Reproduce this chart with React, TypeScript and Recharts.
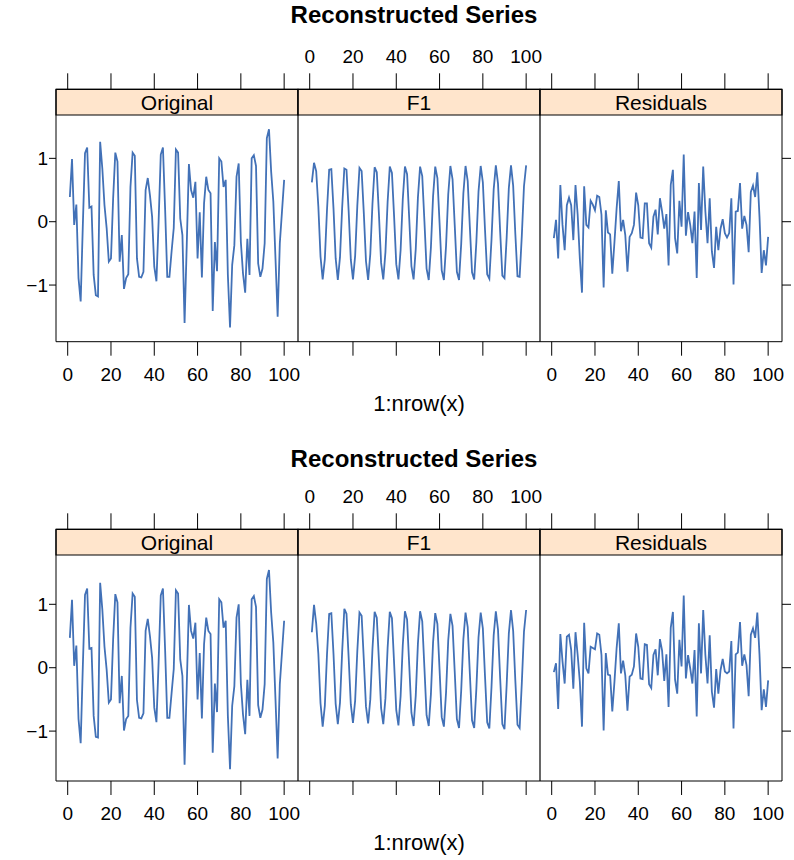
import React from "react";
import { LineChart, Line, XAxis, YAxis, ReferenceArea, ReferenceLine } from "recharts";

const panels = ["Original", "F1", "Residuals"];
const xTicks = [0, 20, 40, 60, 80, 100];
const yTicks = [-1, 0, 1];

// first decomposition
const originalA = [
  0.39, 0.99, -0.05, 0.27, -0.89, -1.26, -0.05, 1.08, 1.17, 0.22,
  0.24, -0.84, -1.16, -1.18, 1.26, 0.84, 0.26, -0.1, -0.63, -0.58,
  0.37, 1.09, 0.95, -0.63, -0.21, -1.06, -0.89, -0.83, 0.55, 1.09,
  1.04, -0.58, -0.87, -0.88, -0.79, 0.5, 0.69, 0.42, 0.08, -0.71,
  -0.94, 0.0, 1.06, 1.17, 0.21, -0.87, -0.87, -0.47, -0.1, 1.14,
  1.09, 0.05, -0.21, -1.6, -0.37, 0.91, 0.5, 0.38, 0.63, -0.58,
  0.15, -0.88, 0.29, 0.71, 0.5, 0.45, -1.41, -0.32, -0.78, 1.0,
  0.95, 0.55, 0.66, -0.84, -1.67, -0.68, -0.37, 0.71, 0.92, -0.32,
  -0.82, -1.12, -0.27, -0.84, 1.0, 1.05, 0.88, -0.66, -0.87, -0.74,
  -0.34, 1.32, 1.46, 0.79, 0.32, -0.58, -1.5, -0.34, 0.16, 0.66,
];
const f1A = [
  0.62, 0.93, 0.8, 0.24, -0.55, -0.91, -0.59, 0.19, 0.82, 0.83,
  0.21, -0.58, -0.92, -0.56, 0.22, 0.84, 0.82, 0.17, -0.6, -0.91,
  -0.54, 0.25, 0.85, 0.8, 0.14, -0.62, -0.92, -0.51, 0.28, 0.86,
  0.78, 0.11, -0.65, -0.91, -0.48, 0.31, 0.87, 0.77, 0.08, -0.67,
  -0.91, -0.45, 0.35, 0.87, 0.75, 0.04, -0.7, -0.91, -0.43, 0.38,
  0.87, 0.72, 0.01, -0.74, -0.92, -0.41, 0.4, 0.87, 0.69, -0.02,
  -0.77, -0.92, -0.38, 0.43, 0.88, 0.67, -0.05, -0.79, -0.92, -0.35,
  0.45, 0.88, 0.64, -0.09, -0.8, -0.91, -0.32, 0.48, 0.88, 0.62,
  -0.13, -0.83, -0.9, -0.28, 0.51, 0.89, 0.6, -0.16, -0.85, -0.89,
  -0.25, 0.53, 0.89, 0.57, -0.19, -0.86, -0.87, -0.22, 0.56, 0.89,
];
const residA = [
  -0.26, 0.03, -0.58, 0.58, -0.05, -0.45, 0.26, 0.38, 0.26, -0.29,
  0.58, 0.11, -0.58, -1.12, 0.56, -0.05, -0.09, 0.33, 0.27, 0.18,
  0.41, 0.39, 0.11, -1.04, 0.18, -0.17, -0.2, -0.82, -0.32, 0.21,
  0.64, -0.15, 0.03, -0.21, -0.79, -0.24, -0.18, -0.05, 0.46, 0.26,
  -0.25, -0.26, 0.29, 0.29, -0.34, -0.41, 0.08, 0.19, -0.2, 0.37,
  0.16, -0.11, 0.12, -0.69, 0.58, 0.82, -0.26, -0.5, 0.33, -0.08,
  1.06, -0.22, 0.15, -0.05, -0.34, 0.16, -0.89, 0.61, -0.13, 0.87,
  0.16, -0.34, 0.37, -0.47, -0.73, -0.08, -0.45, -0.11, 0.04, -0.18,
  -0.25, -0.18, 0.37, -0.99, 0.16, 0.17, 0.61, -0.11, 0.09, -0.05,
  -0.48, 0.47, 0.57, 0.39, 0.78, 0.08, -0.81, -0.45, -0.69, -0.24,
];

// second decomposition
const originalB = [
  0.47, 1.07, 0.03, 0.35, -0.81, -1.19, 0.03, 1.15, 1.25, 0.3,
  0.31, -0.76, -1.09, -1.1, 1.34, 0.92, 0.33, -0.03, -0.55, -0.5,
  0.45, 1.16, 1.03, -0.56, -0.13, -0.99, -0.81, -0.76, 0.63, 1.17,
  1.12, -0.51, -0.79, -0.8, -0.72, 0.58, 0.77, 0.5, 0.16, -0.63,
  -0.86, 0.08, 1.14, 1.25, 0.29, -0.79, -0.79, -0.4, -0.02, 1.22,
  1.17, 0.13, -0.13, -1.53, -0.29, 0.99, 0.58, 0.46, 0.71, -0.5,
  0.23, -0.8, 0.37, 0.79, 0.58, 0.53, -1.34, -0.25, -0.7, 1.08,
  1.03, 0.63, 0.74, -0.76, -1.6, -0.6, -0.29, 0.79, 1.0, -0.25,
  -0.74, -1.05, -0.19, -0.76, 1.08, 1.13, 0.96, -0.59, -0.79, -0.66,
  -0.26, 1.4, 1.54, 0.87, 0.4, -0.5, -1.43, -0.26, 0.24, 0.74,
];
const f1B = [
  0.56, 0.99, 0.7, 0.22, -0.56, -0.93, -0.6, 0.21, 0.85, 0.86,
  0.22, -0.57, -0.89, -0.55, 0.25, 0.93, 0.85, 0.16, -0.58, -0.87,
  -0.52, 0.26, 0.87, 0.82, 0.13, -0.61, -0.88, -0.5, 0.29, 0.88,
  0.79, 0.1, -0.64, -0.89, -0.48, 0.31, 0.88, 0.78, 0.07, -0.67,
  -0.91, -0.45, 0.35, 0.89, 0.76, 0.03, -0.71, -0.92, -0.44, 0.38,
  0.89, 0.73, 0.0, -0.75, -0.92, -0.42, 0.4, 0.86, 0.69, -0.03,
  -0.78, -0.93, -0.39, 0.43, 0.85, 0.66, -0.06, -0.81, -0.95, -0.36,
  0.45, 0.87, 0.64, -0.1, -0.83, -0.95, -0.33, 0.48, 0.87, 0.62,
  -0.14, -0.86, -0.96, -0.3, 0.51, 0.89, 0.6, -0.17, -0.89, -0.97,
  -0.27, 0.54, 0.91, 0.58, -0.2, -0.9, -0.95, -0.24, 0.57, 0.91,
];
const residB = [
  -0.07, 0.07, -0.65, 0.53, 0.1, -0.25, 0.49, 0.52, 0.28, -0.33,
  0.56, 0.2, -0.22, -0.93, 0.71, -0.01, -0.09, 0.33, 0.31, 0.29,
  0.54, 0.52, 0.2, -0.99, 0.23, -0.11, -0.12, -0.69, -0.22, 0.31,
  0.7, -0.09, 0.11, -0.12, -0.68, -0.14, -0.11, 0.02, 0.54, 0.33,
  -0.17, -0.18, 0.37, 0.36, -0.26, -0.32, 0.2, 0.29, -0.12, 0.45,
  0.27, -0.21, 0.21, -0.62, 0.63, 0.88, -0.19, -0.41, 0.44, 0.02,
  1.14, -0.17, 0.2, -0.01, -0.25, 0.28, -0.77, 0.7, -0.09, 0.91,
  0.2, -0.25, 0.51, -0.38, -0.63, -0.02, -0.41, -0.04, 0.14, -0.06,
  -0.09, -0.06, 0.42, -0.96, 0.21, 0.24, 0.72, 0.03, 0.21, 0.04,
  -0.45, 0.52, 0.62, 0.47, 0.87, 0.21, -0.67, -0.34, -0.62, -0.2,
];

const X_MIN = -5.4;
const PANEL = 111.8;
const X_MAX = X_MIN + 3 * PANEL;
const BLUE = "#4271b7";
const STRIP = "#ffe5cc";
const FONT = "'Liberation Sans', Arial, Helvetica, sans-serif";

const panelOf = (v: number) => Math.floor((v - X_MIN) / PANEL);
const allTicks = [0, 1, 2].flatMap((p) => xTicks.map((t) => t + p * PANEL));
const fmt = (show: number[]) => (v: number) => {
  const p = panelOf(v);
  return show.includes(p) ? String(Math.round(v - p * PANEL)) : "";
};
const yFmt = (v: number) => (v < 0 ? "\u2212" + Math.abs(v) : String(v));
const rows = (vals: number[], p: number) =>
  vals.map((v, i) => ({ x: i + 1 + p * PANEL, y: v }));

function Lattice({ series, yMin, yMax, stripY, bottom }: any) {
  const tickStyle = { fill: "#000", fontSize: 19, fontFamily: FONT };
  return (
    <LineChart width={794} height={440} margin={{ top: 49.3, right: 0, bottom, left: 6 }}>
      <XAxis
        xAxisId="top"
        orientation="top"
        type="number"
        dataKey="x"
        domain={[X_MIN, X_MAX]}
        allowDataOverflow
        ticks={allTicks}
        interval={0}
        tickFormatter={fmt([1])}
        height={40}
        tickSize={16}
        tickMargin={10}
        stroke="#000"
        tick={tickStyle}
      />
      <XAxis
        xAxisId="bottom"
        orientation="bottom"
        type="number"
        dataKey="x"
        domain={[X_MIN, X_MAX]}
        allowDataOverflow
        ticks={allTicks}
        interval={0}
        tickFormatter={fmt([0, 2])}
        height={70}
        tickSize={14}
        tickMargin={12}
        stroke="#000"
        tick={tickStyle}
        label={{ value: "1:nrow(x)", position: "insideBottom", offset: 1, fill: "#000", fontSize: 22, fontFamily: FONT }}
      />
      <YAxis
        yAxisId="left"
        type="number"
        domain={[yMin, yMax]}
        allowDataOverflow
        ticks={yTicks}
        interval={0}
        tickFormatter={yFmt}
        width={50}
        tickSize={7}
        tickMargin={1}
        stroke="#000"
        tick={tickStyle}
      />
      <YAxis
        yAxisId="right"
        orientation="right"
        type="number"
        domain={[yMin, yMax]}
        allowDataOverflow
        ticks={yTicks}
        interval={0}
        tickFormatter={() => ""}
        width={12}
        tickSize={9}
        stroke="#000"
      />
      {panels.map((name, p) => (
        <ReferenceArea
          key={name}
          xAxisId="bottom"
          yAxisId="left"
          x1={X_MIN + p * PANEL}
          x2={X_MIN + (p + 1) * PANEL}
          y1={stripY}
          y2={yMax}
          fill={STRIP}
          fillOpacity={1}
          stroke="#000"
          strokeWidth={1.2}
          label={{ value: name, position: "center", fill: "#000", fontSize: 21, fontFamily: FONT }}
        />
      ))}
      {[1, 2].map((p) => (
        <ReferenceLine
          key={p}
          xAxisId="bottom"
          yAxisId="left"
          x={X_MIN + p * PANEL}
          stroke="#000"
          strokeWidth={1.2}
        />
      ))}
      {series.map((vals: number[], p: number) => (
        <Line
          key={p}
          xAxisId="bottom"
          yAxisId="left"
          data={rows(vals, p)}
          dataKey="y"
          type="linear"
          stroke={BLUE}
          strokeWidth={1.8}
          dot={false}
          isAnimationActive={false}
        />
      ))}
    </LineChart>
  );
}

const titleStyle: React.CSSProperties = {
  position: "absolute",
  left: 0,
  width: 828,
  textAlign: "center",
  fontWeight: "bold",
  fontSize: 24,
  lineHeight: "26px",
  fontFamily: FONT,
};

export default function App() {
  return (
    <div style={{ position: "absolute", left: 0, top: 0, width: 794, height: 860, background: "#fff", fontFamily: FONT }}>
      <div style={{ position: "absolute", left: 0, top: 0 }}>
        <Lattice series={[originalA, f1A, residA]} yMin={-1.894} yMax={2.09} stripY={1.684} bottom={28.3} />
      </div>
      <div style={{ position: "absolute", left: 0, top: 440 }}>
        <Lattice series={[originalB, f1B, residB]} yMin={-1.787} yMax={2.183} stripY={1.778} bottom={29} />
      </div>
      <div style={{ ...titleStyle, top: 2 }}>Reconstructed Series</div>
      <div style={{ ...titleStyle, top: 446 }}>Reconstructed Series</div>
    </div>
  );
}
